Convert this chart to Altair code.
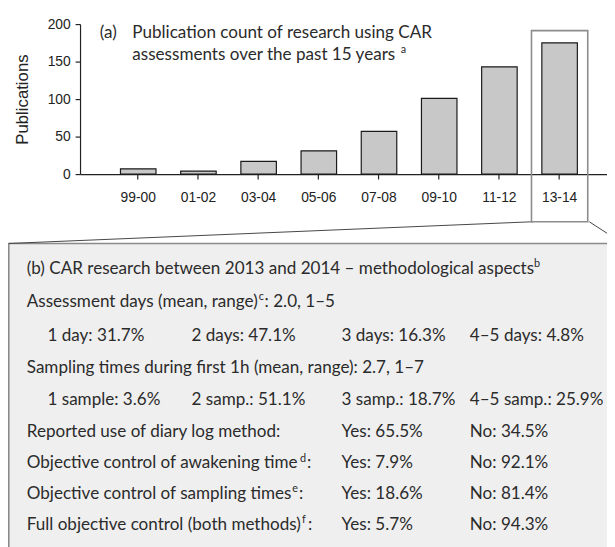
import altair as alt
import pandas as pd

# ---------------- data ----------------
periods = ["99-00", "01-02", "03-04", "05-06", "07-08", "09-10", "11-12", "13-14"]
counts = [7, 4, 17, 31, 57, 101, 143, 175]
highlight_period = "13-14"

title_a_tag = "(a)"
title_a_lines = ["Publication count of research using CAR",
                 "assessments over the past 15 years"]

box_title = "(b) CAR research between 2013 and 2014 \u2013 methodological aspects"
assess_header = "Assessment days (mean, range)"
assess_values = ": 2.0, 1\u20135"
day_labels = ["1 day", "2 days", "3 days", "4\u20135 days"]
day_pct = [31.7, 47.1, 16.3, 4.8]
sampling_header = "Sampling times during first 1h (mean, range): 2.7, 1\u20137"
samp_labels = ["1 sample", "2 samp.", "3 samp.", "4\u20135 samp."]
samp_pct = [3.6, 51.1, 18.7, 25.9]
control_labels = ["Reported use of diary log method:",
                  "Objective control of awakening time",
                  "Objective control of sampling times",
                  "Full objective control (both methods)"]
control_suffix = ["", ":", ":", ":"]
yes_pct = [65.5, 7.9, 18.6, 5.7]
no_pct = [34.5, 92.1, 81.4, 94.3]
footnote_marks = ["a", "b", "c", "d", "e", "f"]

# ---------------- layout ----------------
W, H = 534, 152
PAD_L, PAD_T = 73, 12.7
TOTAL_W, TOTAL_H = 607, 539
TXT_FONT = "Lato"
TXT_SIZE = 17.3
SUP_SIZE = 11
TXT_COLOR = "#2b2b2b"

col_x = [-54, -33, 113, 265, 395]          # header, indent, col2, col3, col4
row_y = [253.6, 286.3, 320.8, 353.6, 385.8, 418.3, 450.3, 481.3, 512.6]
title_y = [14.3, 36.8]
SUP_RAISE = 7
# x positions (plot coords) of footnote marks a..f, and of the text that follows them
sup_x = [325, 460, 181, 223, 215, 225]
after_sup_x = {"c": 187, "d": 230, "e": 222, "f": 231}

recs, sups = [], []
recs.append((box_title, col_x[0], row_y[0]))
recs.append((assess_header, col_x[0], row_y[1]))
recs.append((assess_values, after_sup_x["c"], row_y[1]))
for i, (l, p) in enumerate(zip(day_labels, day_pct)):
    recs.append((f"{l}: {p}%", col_x[1 + i], row_y[2]))
recs.append((sampling_header, col_x[0], row_y[3]))
for i, (l, p) in enumerate(zip(samp_labels, samp_pct)):
    recs.append((f"{l}: {p}%", col_x[1 + i], row_y[4]))
for j, (l, s, y, n) in enumerate(zip(control_labels, control_suffix, yes_pct, no_pct)):
    recs.append((l, col_x[0], row_y[5 + j]))
    if s:
        recs.append((s, after_sup_x[footnote_marks[2 + j]], row_y[5 + j]))
    recs.append((f"Yes: {y}%", col_x[3], row_y[5 + j]))
    recs.append((f"No: {n}%", col_x[4], row_y[5 + j]))
recs.append((title_a_tag, 20, title_y[0]))
recs.append((title_a_lines[0], 53, title_y[0]))
recs.append((title_a_lines[1], 53, title_y[1]))

sup_rows = [title_y[1], row_y[0], row_y[1], row_y[6], row_y[7], row_y[8]]
for m, x, y in zip(footnote_marks, sup_x, sup_rows):
    sups.append((m, x, y - SUP_RAISE))

text_df = pd.DataFrame(recs, columns=["text", "px", "py"])
sup_df = pd.DataFrame(sups, columns=["text", "px", "py"])
bar_df = pd.DataFrame({"period": periods, "count": counts})
one = pd.DataFrame({"k": [0]})

x_scale = alt.Scale(domain=periods, paddingInner=0.41, paddingOuter=0.582, align=0.577)

box = alt.Chart(one).mark_rect(fill="#efefef", stroke="#8a8a8a", strokeWidth=1.6).encode(
    x=alt.value(-72.2), x2=alt.value(W + 40), y=alt.value(222.3), y2=alt.value(TOTAL_H + 20)
)
line_l = alt.Chart(one).mark_rule(color="#444444", strokeWidth=1).encode(
    x=alt.value(459), y=alt.value(200.3), x2=alt.value(-72.2), y2=alt.value(222.3)
)
line_r = alt.Chart(one).mark_rule(color="#444444", strokeWidth=1).encode(
    x=alt.value(516), y=alt.value(200.3), x2=alt.value(550), y2=alt.value(222.3)
)

bars = alt.Chart(bar_df).mark_bar(fill="#c8c8c8", stroke="#1a1a1a", strokeWidth=1.2).encode(
    x=alt.X("period:N", scale=x_scale, sort=periods,
            axis=alt.Axis(title=None, labelAngle=0, labelFont="Liberation Sans",
                          labelFontSize=14, labelColor="#222222", labelPadding=12,
                          tickSize=5, tickColor="#222222", domainColor="#222222",
                          domainWidth=1.2, tickWidth=1.2)),
    y=alt.Y("count:Q", scale=alt.Scale(domain=[0, 200], nice=False),
            axis=alt.Axis(title="Publications", values=[0, 50, 100, 150, 200], grid=False,
                          labelFont="Liberation Sans", labelFontSize=14, labelColor="#222222",
                          labelPadding=5, tickSize=5, tickColor="#222222", domainColor="#222222",
                          domainWidth=1.2, tickWidth=1.2,
                          titleFont="Liberation Sans", titleFontSize=17, titleFontWeight="normal",
                          titleColor="#222222", titleAngle=270, titleX=-53, titleY=76,
                          titleAlign="center", titleBaseline="alphabetic")),
)

highlight = alt.Chart(bar_df).transform_filter(
    alt.datum.period == highlight_period
).mark_bar(width=57, fillOpacity=0, stroke="#8c8c8c", strokeWidth=1.6).encode(
    x=alt.X("period:N", scale=x_scale, sort=periods),
    y=alt.value(6.6), y2=alt.value(200.3),
)

texts = alt.Chart(text_df).mark_text(
    align="left", baseline="alphabetic", font=TXT_FONT, fontSize=TXT_SIZE, color=TXT_COLOR
).encode(
    x=alt.X("px:Q", scale=None, axis=None),
    y=alt.Y("py:Q", scale=None, axis=None),
    text="text:N",
)
sup_texts = alt.Chart(sup_df).mark_text(
    align="left", baseline="alphabetic", font=TXT_FONT, fontSize=SUP_SIZE, color=TXT_COLOR
).encode(
    x=alt.X("px:Q", scale=None, axis=None),
    y=alt.Y("py:Q", scale=None, axis=None),
    text="text:N",
)

chart = alt.layer(box, line_l, line_r, bars, highlight, texts, sup_texts).properties(
    width=W, height=H,
    autosize=alt.AutoSizeParams(type="none"),
    padding={"left": PAD_L, "top": PAD_T, "right": TOTAL_W - PAD_L - W,
             "bottom": TOTAL_H - PAD_T - H},
).configure_view(strokeWidth=0)

chart.save("out.html", embed_options={"renderer": "svg", "actions": False})
